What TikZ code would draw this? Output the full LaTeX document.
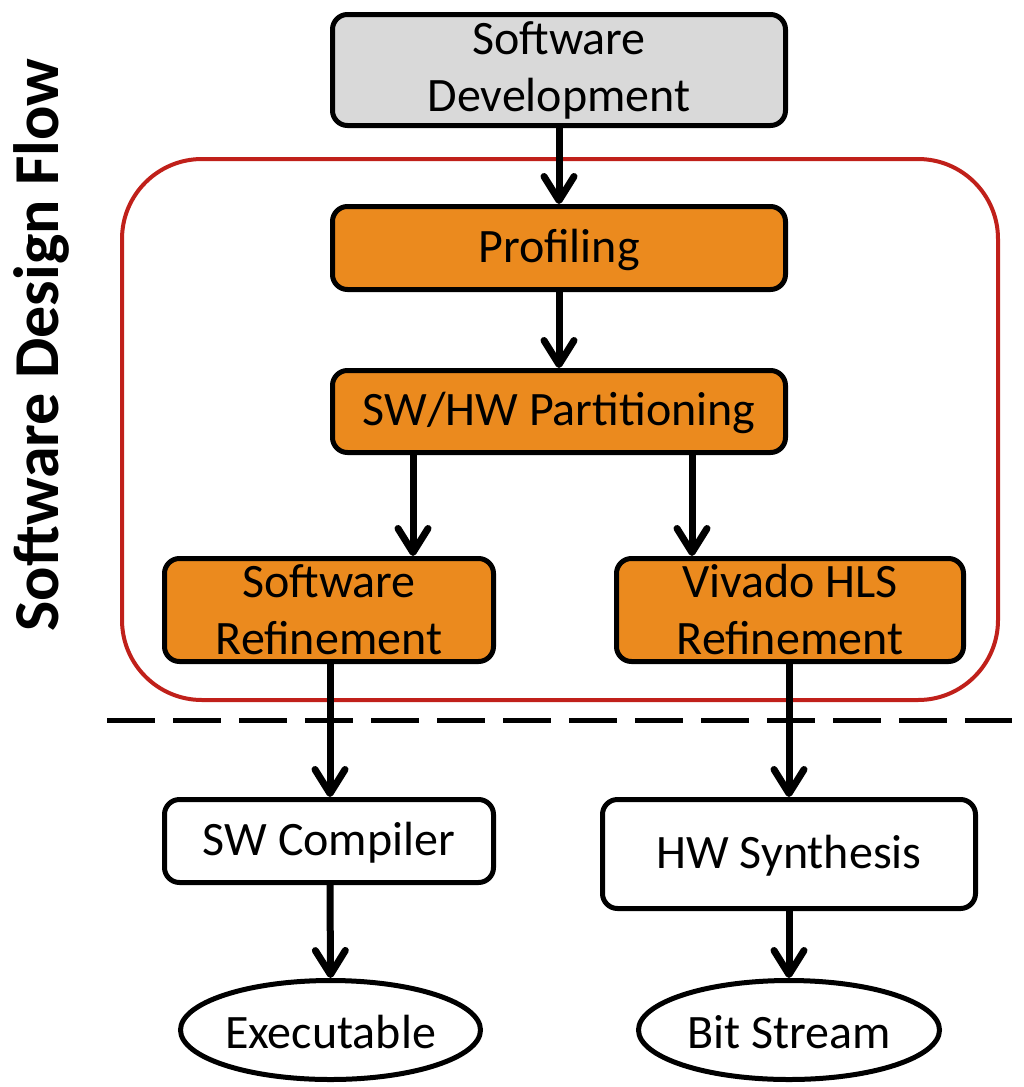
\documentclass[tikz,border=0pt]{standalone}
\usepackage{fontspec}
\setmainfont{Carlito}
\usetikzlibrary{arrows.meta,shapes.geometric}
\definecolor{boxorange}{HTML}{EB8A1E}
\definecolor{boxgray}{HTML}{D9D9D9}
\definecolor{framered}{HTML}{C0201A}
\begin{document}
\begin{tikzpicture}[x=1pt,y=-1pt,
  txt/.style={font=\fontsize{48}{57}\selectfont, align=center, inner sep=0pt,
    execute at begin node={\rule{0pt}{37pt}}},
  stage/.style={txt, draw, line width=5pt, rounded corners=15pt},
  orangebox/.style={stage, fill=boxorange},
  result/.style={txt, draw, ellipse, line width=5pt, fill=white},
  arr/.style={line width=7pt, -{Straight Barb[length=24pt,width=30pt,line cap=round,line join=round]}},
  frame/.style={draw=framered, line width=4pt, rounded corners=80pt},
  divider/.style={line width=5pt, dash pattern=on 48pt off 18pt},
]
\useasboundingbox (0,0) rectangle (1023,1087);
\fill[white] (0,0) rectangle (1023,1087);

% rotated title on the left
\node[font=\fontsize{64}{70}\selectfont\bfseries, rotate=90, anchor=base, inner sep=0pt]
  (title) at (58,345) {Software Design Flow};

% software design flow region and the divider below it
\draw[frame] (122,159) rectangle (998,700);
\coordinate (divL) at (107,720);
\coordinate (divR) at (1012,720);
\draw[divider] (divL) -- (divR);

% stages
\node[stage, fill=boxgray, minimum width=453pt, minimum height=111pt] (dev) at (559,70) {Software\\Development};
\node[orangebox, minimum width=453pt, minimum height=83pt] (prof) at (559,248) {Profiling};
\node[orangebox, minimum width=453pt, minimum height=82pt] (part) at (559,411.5) {SW/HW Partitioning};
\node[orangebox, minimum width=329pt, minimum height=103pt] (swref) at (329,610) {Software\\Refinement};
\node[orangebox, minimum width=347pt, minimum height=103pt] (hlsref) at (790,610) {Vivado HLS\\Refinement};
\node[stage, fill=white, minimum width=329pt, minimum height=83pt] (swc) at (329,841) {SW Compiler};
\node[stage, fill=white, minimum width=373pt, minimum height=109pt] (hws) at (789,854) {HW Synthesis};
\node[result, minimum width=300pt, minimum height=99pt] (exe) at (330.5,1030) {Executable};
\node[result, minimum width=301pt, minimum height=99pt] (bit) at (789,1030) {Bit Stream};

% connectors
\draw[arr] (dev.south) -- (prof.north);
\draw[arr] (prof.south) -- (part.north);
\draw[arr] ([xshift=-146pt]part.south) -- ([xshift=84pt]swref.north);
\draw[arr] ([xshift=133pt]part.south) -- ([xshift=-98pt]hlsref.north);
\draw[arr] ([xshift=1pt]swref.south) -- ([xshift=1pt]swc.north);
\draw[arr] ([xshift=-1pt]hlsref.south) -- (hws.north);
\draw[arr] ([xshift=1pt]swc.south) -- (exe.north);
\draw[arr] (hws.south) -- (bit.north);
\end{tikzpicture}
\end{document}
